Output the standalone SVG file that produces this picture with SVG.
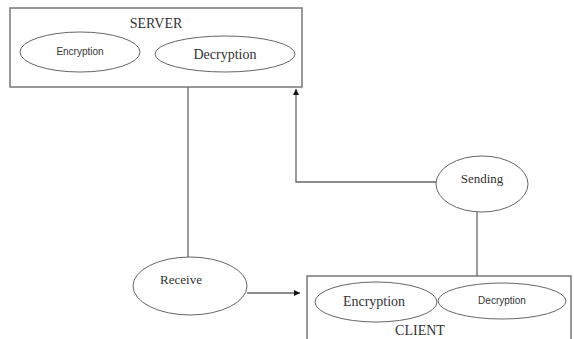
<svg xmlns="http://www.w3.org/2000/svg" width="574" height="339" viewBox="0 0 574 339">
<style>
.box{fill:none;stroke:#777;stroke-width:1.5}
.ell{fill:#fff;stroke:#666;stroke-width:1}
.ln{fill:none;stroke:#666;stroke-width:1.3}
.serif{font-family:"Liberation Serif",serif;fill:#333;text-anchor:middle}
.sans{font-family:"Liberation Sans",sans-serif;fill:#333;text-anchor:middle}
</style>
<defs>
<marker id="ah" markerWidth="8" markerHeight="8" refX="6" refY="4" orient="auto" markerUnits="userSpaceOnUse">
<path d="M0,1 L6,4 L0,7 Z" fill="#111"/>
</marker>
</defs>
<rect width="574" height="339" fill="#fff"/>
<g id="connectors">
<line class="ln" x1="188" y1="87" x2="188" y2="257"/>
<polyline class="ln" points="436,182 296,182 296,89" marker-end="url(#ah)"/>
<line class="ln" x1="477" y1="212" x2="477" y2="276"/>
<line class="ln" x1="247" y1="293" x2="300" y2="293" marker-end="url(#ah)"/>
</g>
<g id="server">
<rect class="box" x="10" y="8" width="292" height="79"/>
<text class="serif" x="156" y="28" font-size="14">SERVER</text>
</g>
<g id="server-encryption">
<ellipse class="ell" cx="80" cy="52" rx="60" ry="20"/>
<text class="sans" x="80" y="55" font-size="10">Encryption</text>
</g>
<g id="server-decryption">
<ellipse class="ell" cx="225" cy="54" rx="70" ry="18"/>
<text class="serif" x="225" y="59" font-size="14">Decryption</text>
</g>
<g id="receive">
<ellipse class="ell" cx="190" cy="286" rx="57" ry="29"/>
<text class="serif" x="181" y="284" font-size="13">Receive</text>
</g>
<g id="sending">
<ellipse class="ell" cx="482" cy="184" rx="46" ry="28"/>
<text class="serif" x="482" y="183" font-size="13">Sending</text>
</g>
<g id="client">
<path class="box" d="M307,345 L307,276 L571,276 L571,345"/>
<text class="serif" x="420" y="335" font-size="14">CLIENT</text>
</g>
<g id="client-encryption">
<ellipse class="ell" cx="376" cy="302" rx="61" ry="20"/>
<text class="serif" x="374" y="306" font-size="14">Encryption</text>
</g>
<g id="client-decryption">
<ellipse class="ell" cx="502" cy="301" rx="64" ry="18"/>
<text class="sans" x="502" y="304" font-size="10">Decryption</text>
</g>
</svg>
